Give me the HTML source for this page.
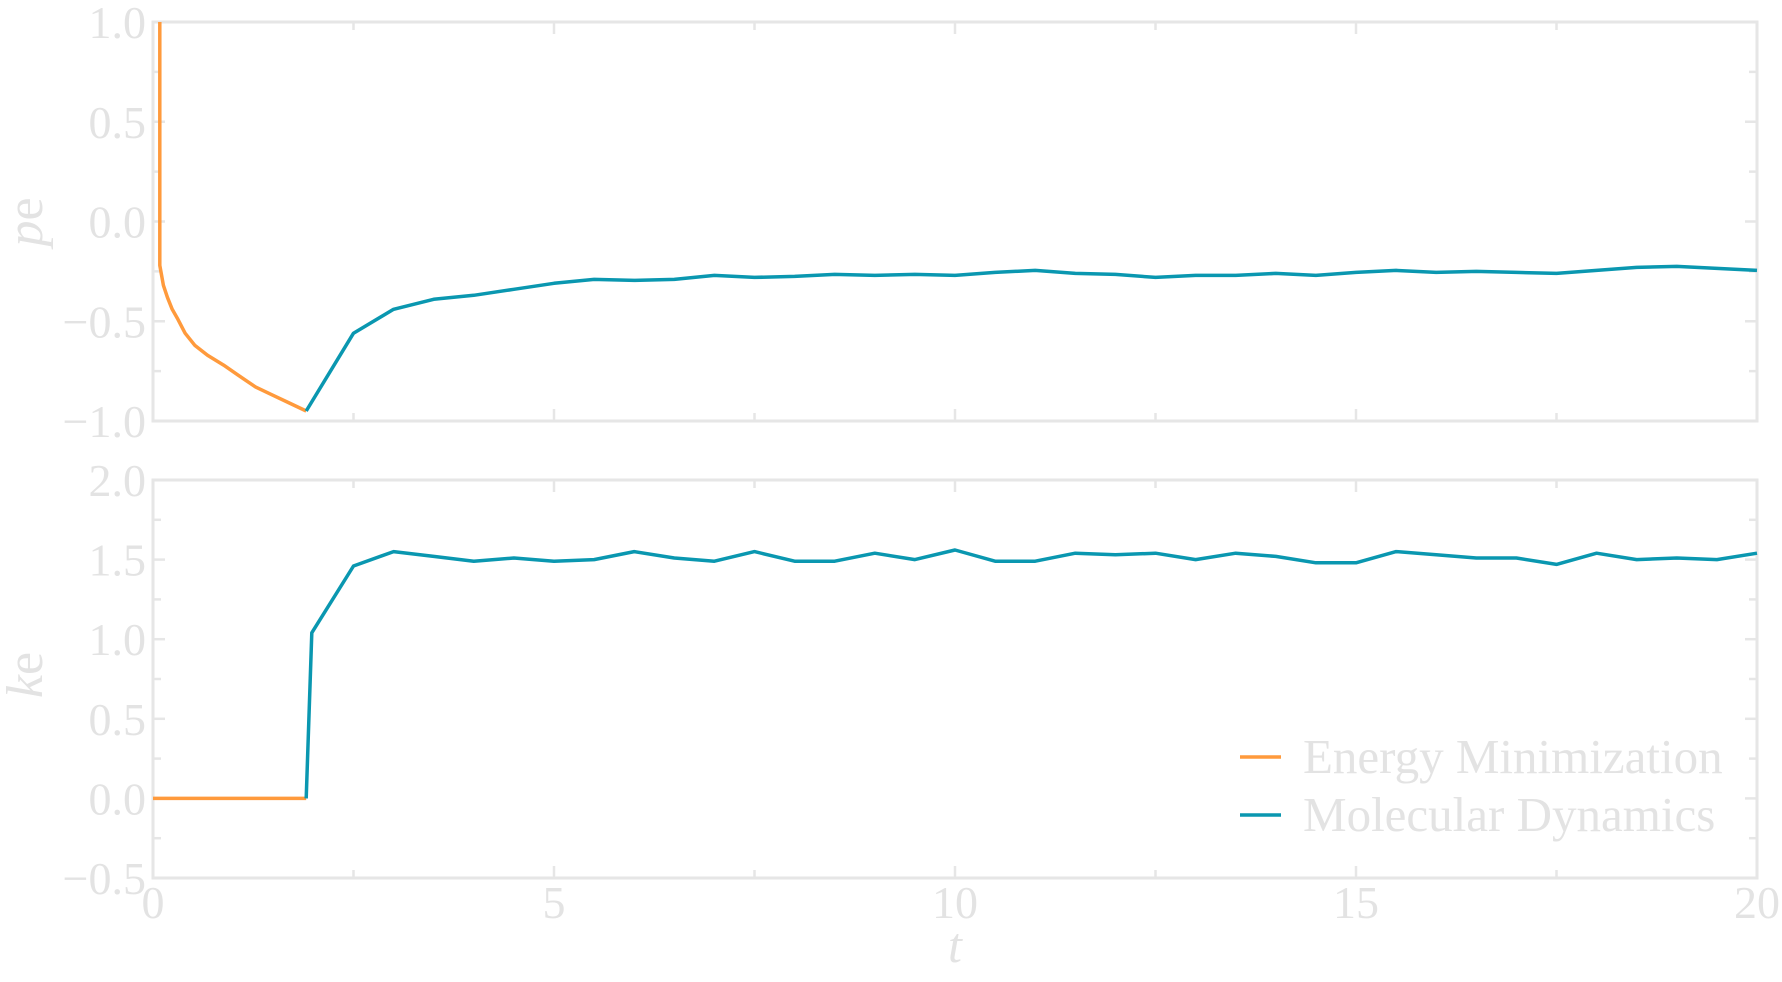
<!DOCTYPE html>
<html><head><meta charset="utf-8"><style>
html,body{margin:0;padding:0;background:#fff;}
svg{display:block;font-family:"Liberation Serif",serif;}
</style></head><body>
<svg id="chart" width="1782" height="982" viewBox="0 0 1782 982"></svg>
<script>
const emT=[0.085,0.085,0.13,0.18,0.24,0.31,0.4,0.52,0.68,0.88,1.06,1.28,1.49,1.7,1.91];
const emPE=[1.0,-0.22,-0.32,-0.38,-0.44,-0.49,-0.56,-0.62,-0.67,-0.72,-0.77,-0.83,-0.87,-0.91,-0.95];
const emKeT=[0,1.91];
const emKE=[0,0];
const mdT=[1.91,2.5,3,3.5,4,4.5,5,5.5,6,6.5,7,7.5,8,8.5,9,9.5,10,10.5,11,11.5,12,12.5,13,13.5,14,14.5,15,15.5,16,16.5,17,17.5,18,18.5,19,20];
const mdPE=[-0.95,-0.56,-0.44,-0.39,-0.37,-0.34,-0.31,-0.29,-0.295,-0.29,-0.27,-0.28,-0.275,-0.265,-0.27,-0.265,-0.27,-0.255,-0.245,-0.26,-0.265,-0.28,-0.27,-0.27,-0.26,-0.27,-0.255,-0.245,-0.255,-0.25,-0.255,-0.26,-0.245,-0.23,-0.225,-0.245];
const mdKeT=[1.91,1.98,2.5,3,3.5,4,4.5,5,5.5,6,6.5,7,7.5,8,8.5,9,9.5,10,10.5,11,11.5,12,12.5,13,13.5,14,14.5,15,15.5,16,16.5,17,17.5,18,18.5,19,19.5,20];
const mdKE=[0,1.04,1.46,1.55,1.52,1.49,1.51,1.49,1.5,1.55,1.51,1.49,1.55,1.49,1.49,1.54,1.5,1.56,1.49,1.49,1.54,1.53,1.54,1.5,1.54,1.52,1.48,1.48,1.55,1.53,1.51,1.51,1.47,1.54,1.5,1.51,1.5,1.54];
const xTicks=[0,5,10,15,20];
const peTicks=[1.0,0.5,0.0,-0.5,-1.0];
const keTicks=[2.0,1.5,1.0,0.5,0.0,-0.5];

const NS="http://www.w3.org/2000/svg";
const svg=document.getElementById('chart');
const L=153,R=1757;
const X=t=>L+(t)/20*(R-L);
const P1={top:22,bot:421,min:-1,max:1};
const P2={top:480,bot:878,min:-0.5,max:2};
const Y=(p,v)=>p.bot-(v-p.min)/(p.max-p.min)*(p.bot-p.top);
const AX='#e6e6e6',TX='#e3e3e3',OR='#ff9a3c',BL='#0a97b0';
function mk(tag,attrs,parent){const e=document.createElementNS(NS,tag);for(const k in attrs)e.setAttribute(k,attrs[k]);(parent||svg).appendChild(e);return e;}
function fmt(v){return (v<0?'\u2212':'')+Math.abs(v).toFixed(1);}
function panel(p,ticks,name,label,ly){
  const g=mk('g',{});
  
  
  const fr=mk('rect',{x:L,y:p.top,width:R-L,height:p.bot-p.top,fill:'none',stroke:AX,'stroke-width':3},g);
  
  
  for(let t=0;t<=20;t+=2.5){const x=X(t);const len=(t%5===0)?12:8;
    mk('line',{x1:x,x2:x,y1:p.bot,y2:p.bot-len,stroke:AX,'stroke-width':2.5},g);
    mk('line',{x1:x,x2:x,y1:p.top,y2:p.top+len,stroke:AX,'stroke-width':2.5},g);}
  const step=0.25;
  for(let v=p.min;v<=p.max+1e-9;v+=step){const y=Y(p,v);const maj=Math.abs(v*2-Math.round(v*2))<1e-6;const len=maj?12:8;
    mk('line',{x1:L,x2:L+len,y1:y,y2:y,stroke:AX,'stroke-width':2.5},g);
    mk('line',{x1:R,x2:R-len,y1:y,y2:y,stroke:AX,'stroke-width':2.5},g);}
  ticks.forEach(v=>{const t=mk('text',{x:146,y:Y(p,v)+16,'text-anchor':'end','font-size':46,fill:TX},g);t.textContent=fmt(v);
    
    });
  const lab=mk('text',{x:0,y:0,transform:`translate(42,${ly}) rotate(-90)`,'text-anchor':'middle','font-size':52,fill:TX},g);
  lab.innerHTML=label;
  
  
  return g;
}
panel(P1,peTicks,'pe','<tspan font-style="italic">p</tspan><tspan font-style="normal">e</tspan>',222);
panel(P2,keTicks,'ke','<tspan font-style="italic">k</tspan><tspan font-style="normal">e</tspan>',675);
xTicks.forEach(v=>{const t=mk('text',{x:X(v),y:918,'text-anchor':'middle','font-size':46,fill:TX});t.textContent=v;
  
  });
const xt=mk('text',{x:X(10),y:962,'text-anchor':'middle','font-size':50,'font-style':'italic',fill:TX});xt.textContent='t';


function line(ts,vs,p,col,name){const d=ts.map((t,i)=>(i?'L':'M')+X(t).toFixed(1)+','+Y(p,vs[i]).toFixed(1)).join(' ');
  const e=mk('path',{d:d,fill:'none',stroke:col,'stroke-width':3.5,'stroke-linejoin':'round'});
  
  }
line(emT,emPE,P1,OR,'pe-energy-minimization-line');
line(mdT,mdPE,P1,BL,'pe-molecular-dynamics-line');
line(emKeT,emKE,P2,OR,'ke-energy-minimization-line');
line(mdKeT,mdKE,P2,BL,'ke-molecular-dynamics-line');
[['Energy Minimization',OR,757],['Molecular Dynamics',BL,815]].forEach(([lbl,c,y])=>{
  const g=mk('g',{});
  
  
  mk('line',{x1:1240,x2:1281,y1:y,y2:y,stroke:c,'stroke-width':3.5},g);
  const t=mk('text',{x:1303,y:y+16,'font-size':49,fill:TX},g);t.textContent=lbl;});
</script>
</body></html>
